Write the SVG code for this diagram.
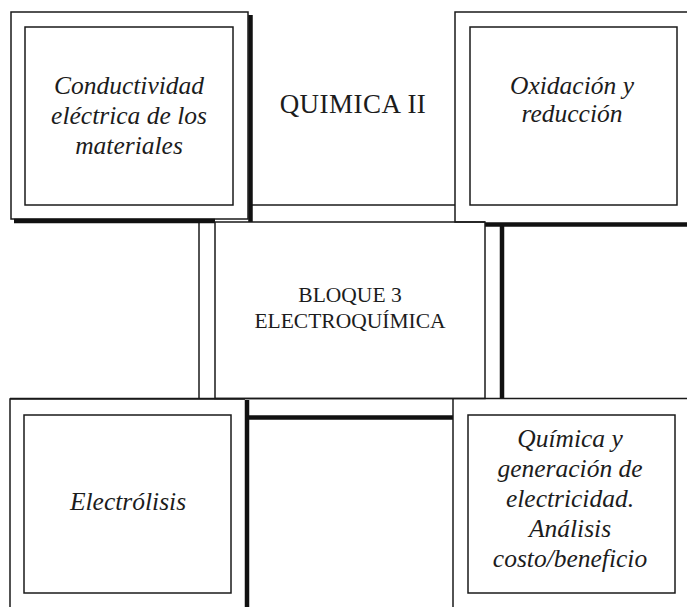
<svg xmlns="http://www.w3.org/2000/svg" width="687" height="607" viewBox="0 0 687 607">
<style>
.t{fill:none;stroke:#1a1a1a;stroke-width:1.5}
.k{fill:none;stroke:#111;stroke-width:4.5}
.it{font-family:"Liberation Serif","Times New Roman",serif;font-style:italic;font-size:25.5px;fill:#1c1c1c;text-anchor:middle}
.rg{font-family:"Liberation Serif","Times New Roman",serif;fill:#1c1c1c;text-anchor:middle}
</style>
<rect width="687" height="607" fill="#fff"/>
<g id="frame">
<line class="t" x1="252" y1="205" x2="455" y2="205"/>
<line class="t" x1="199" y1="222" x2="199" y2="399"/>
<line class="k" x1="502" y1="224" x2="502" y2="398"/>
<line class="t" x1="10" y1="398.5" x2="687" y2="398.5"/>
<line class="k" x1="247" y1="417.5" x2="453" y2="417.5"/>
<line class="t" x1="453" y1="398" x2="453" y2="607"/>
</g>
<g id="n-conductividad">
<rect class="t" x="11" y="12" width="237" height="207"/>
<line class="k" x1="14" y1="221" x2="215" y2="221"/>
<line class="k" x1="250.5" y1="15" x2="250.5" y2="222"/>
<rect class="t" x="25" y="27" width="208" height="178"/>
<text class="it" x="129" y="94">Conductividad</text>
<text class="it" x="129" y="124">eléctrica de los</text>
<text class="it" x="129" y="154">materiales</text>
</g>
<g id="n-titulo">
<text class="rg" x="353" y="113" font-size="27" letter-spacing="0.5">QUIMICA II</text>
</g>
<g id="n-oxidacion">
<polyline class="t" points="700,12 455,12 455,222 485,222"/>
<line class="k" x1="485" y1="224.5" x2="687" y2="224.5"/>
<rect class="t" x="470" y="27" width="207" height="178"/>
<text class="it" x="572" y="94">Oxidación y</text>
<text class="it" x="572" y="122">reducción</text>
</g>
<g id="n-bloque">
<rect class="t" x="215" y="222" width="270" height="176.5"/>
<text class="rg" x="350" y="302" font-size="21.5">BLOQUE 3</text>
<text class="rg" x="350" y="328" font-size="21.5">ELECTROQUÍMICA</text>
</g>
<g id="n-electrolisis">
<polyline class="t" points="10,607 10,399 245,399"/>
<line class="k" x1="247" y1="400" x2="247" y2="607"/>
<rect class="t" x="24" y="415" width="207" height="178"/>
<text class="it" x="128" y="510">Electrólisis</text>
</g>
<g id="n-quimica-generacion">
<rect class="t" x="468" y="415" width="207" height="178"/>
<text class="it" x="570" y="447">Química y</text>
<text class="it" x="570" y="477">generación de</text>
<text class="it" x="570" y="507">electricidad.</text>
<text class="it" x="570" y="537">Análisis</text>
<text class="it" x="570" y="567">costo/beneficio</text>
</g>
</svg>
